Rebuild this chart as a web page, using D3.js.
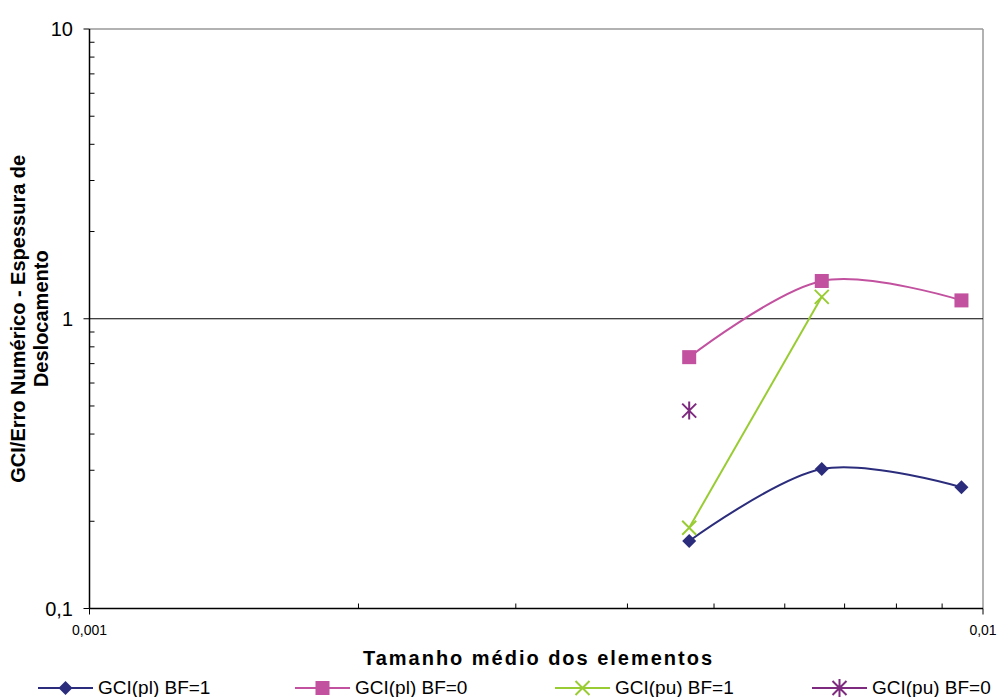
<!DOCTYPE html>
<html><head><meta charset="utf-8">
<script src="https://cdn.jsdelivr.net/npm/d3@7"></script>
<style>body{margin:0;background:#fff}svg{display:block;font-family:"Liberation Sans",Arial,sans-serif}</style>
</head><body>
<svg id="c" width="1006" height="697"></svg>
<script>
const xSizes = [0.00469, 0.0066, 0.00946];
const gciPlBF1 = [0.171, 0.303, 0.262];
const gciPlBF0 = [0.737, 1.35, 1.157];
const gciPuBF1x = [0.00469, 0.0066];
const gciPuBF1 = [0.19, 1.19];
const gciPuBF0x = [0.00469];
const gciPuBF0 = [0.482];
const xTickLabels = ["0,001", "0,01"];
const yTickLabels = ["0,1", "1", "10"];
const seriesNames = ["GCI(pl) BF=1", "GCI(pl) BF=0", "GCI(pu) BF=1", "GCI(pu) BF=0"];

const svg = d3.select("#c");
const L = 89.5, R = 983, T = 29, B = 608.5;
const x = d3.scaleLog().domain([0.001, 0.01]).range([L, R]);
const y = d3.scaleLog().domain([0.1, 10]).range([B, T]);

// plot frame (top/right gray)
svg.append("line").attr("x1", L).attr("x2", R).attr("y1", T).attr("y2", T).attr("stroke", "#999").attr("stroke-width", 1.5);
svg.append("line").attr("x1", R).attr("x2", R).attr("y1", T).attr("y2", B).attr("stroke", "#999").attr("stroke-width", 1.5);
// gridline at 1
svg.append("line").attr("x1", L).attr("x2", R).attr("y1", y(1)).attr("y2", y(1)).attr("stroke", "#000").attr("stroke-width", 1);

// y axis
const yMinor = [];
for (let d = 0.1; d < 10; d *= 10) for (let k = 2; k <= 9; k++) yMinor.push(+(d * k).toPrecision(3));
svg.selectAll(".ymin").data(yMinor).enter().append("line")
  .attr("x1", L).attr("x2", L + 5).attr("y1", d => y(d)).attr("y2", d => y(d)).attr("stroke", "#000");
svg.selectAll(".ymaj").data([0.1, 1, 10]).enter().append("line")
  .attr("x1", L - 6).attr("x2", L).attr("y1", d => y(d)).attr("y2", d => y(d)).attr("stroke", "#000");
svg.selectAll(".ylab").data([0.1, 1, 10]).enter().append("text")
  .attr("x", 73).attr("y", d => y(d)).attr("dy", "0.35em").attr("text-anchor", "end")
  .attr("font-size", 20).text((d, i) => yTickLabels[i]);
svg.append("line").attr("x1", L).attr("x2", L).attr("y1", T).attr("y2", B).attr("stroke", "#000").attr("stroke-width", 1.5);

// x axis
const xMinor = [];
for (let k = 2; k <= 9; k++) xMinor.push(0.001 * k);
svg.selectAll(".xmin").data(xMinor).enter().append("line")
  .attr("x1", d => x(d)).attr("x2", d => x(d)).attr("y1", B).attr("y2", B - 5).attr("stroke", "#000");
svg.selectAll(".xmaj").data([0.001, 0.01]).enter().append("line")
  .attr("x1", d => x(d)).attr("x2", d => x(d)).attr("y1", B).attr("y2", B + 6).attr("stroke", "#000");
svg.append("line").attr("x1", L).attr("x2", R).attr("y1", B).attr("y2", B).attr("stroke", "#000").attr("stroke-width", 1.5);
svg.selectAll(".xlab").data([0.001, 0.01]).enter().append("text")
  .attr("x", d => x(d)).attr("y", 635).attr("text-anchor", "middle")
  .attr("font-size", 14).text((d, i) => xTickLabels[i]);

// titles
svg.append("text").attr("x", 363).attr("y", 665).attr("textLength", 349).attr("lengthAdjust", "spacing")
  .attr("font-size", 20).attr("font-weight", "bold").text("Tamanho médio dos elementos");
const yt = svg.append("text").attr("transform", `translate(0,${(T + B) / 2}) rotate(-90)`)
  .attr("text-anchor", "middle").attr("font-size", 20).attr("font-weight", "bold");
yt.append("tspan").attr("x", 0).attr("y", 25).text("GCI/Erro Numérico - Espessura de");
yt.append("tspan").attr("x", 0).attr("y", 48).text("Deslocamento");

const colors = ["#2B2D7C", "#C2519F", "#99CC33", "#7E2A7F"];
const smooth = d3.line().x(d => x(d[0])).y(d => y(d[1])).curve(d3.curveCardinal.tension(0));
const straight = d3.line().x(d => x(d[0])).y(d => y(d[1]));
const s1 = xSizes.map((v, i) => [v, gciPlBF1[i]]);
const s2 = xSizes.map((v, i) => [v, gciPlBF0[i]]);
const s3 = gciPuBF1x.map((v, i) => [v, gciPuBF1[i]]);
const s4 = gciPuBF0x.map((v, i) => [v, gciPuBF0[i]]);

svg.append("path").attr("d", smooth(s1)).attr("fill", "none").attr("stroke", colors[0]).attr("stroke-width", 2);
svg.append("path").attr("d", smooth(s2)).attr("fill", "none").attr("stroke", colors[1]).attr("stroke-width", 2);
svg.append("path").attr("d", straight(s3)).attr("fill", "none").attr("stroke", colors[2]).attr("stroke-width", 2);

function marker(g, type, cx, cy, col) {
  if (type === 0) g.append("path").attr("d", `M${cx},${cy-7}L${cx+7},${cy}L${cx},${cy+7}L${cx-7},${cy}Z`).attr("fill", col);
  else if (type === 1) g.append("rect").attr("x", cx - 7).attr("y", cy - 7).attr("width", 14).attr("height", 14).attr("fill", col);
  else if (type === 2) g.append("path").attr("d", `M${cx-7},${cy-7}L${cx+7},${cy+7}M${cx+7},${cy-7}L${cx-7},${cy+7}`).attr("stroke", col).attr("stroke-width", 2);
  else g.append("path").attr("d", `M${cx-7},${cy-7}L${cx+7},${cy+7}M${cx+7},${cy-7}L${cx-7},${cy+7}M${cx},${cy-9}L${cx},${cy+9}`).attr("stroke", col).attr("stroke-width", 2);
}
[s1, s2, s3, s4].forEach((s, k) => s.forEach(p => marker(svg, k, x(p[0]), y(p[1]), colors[k])));

// legend
const legX = [38, 295, 555, 812];
seriesNames.forEach((n, k) => {
  const g = svg.append("g");
  g.append("line").attr("x1", legX[k]).attr("x2", legX[k] + 55).attr("y1", 688).attr("y2", 688).attr("stroke", colors[k]).attr("stroke-width", 2);
  marker(g, k, legX[k] + 27.5, 688, colors[k]);
  g.append("text").attr("x", legX[k] + 60).attr("y", 694).attr("font-size", 19).text(n);
});
</script>
</body></html>
